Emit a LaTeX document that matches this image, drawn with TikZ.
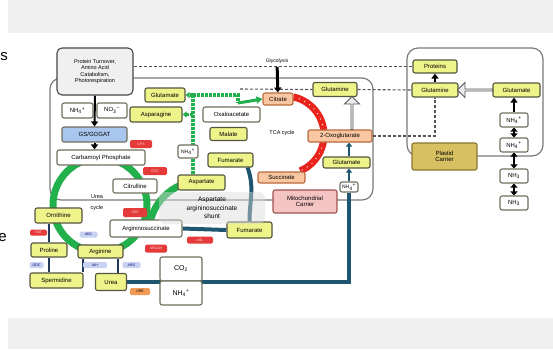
\documentclass[tikz,border=0pt]{standalone}
\usepackage{fontspec}
\setmainfont{Liberation Sans}
\usetikzlibrary{arrows.meta,shapes.arrows,backgrounds}

\definecolor{boxyel}{HTML}{EEF38A}
\definecolor{boxline}{HTML}{55553F}
\definecolor{boxorg}{HTML}{FAC7A2}
\definecolor{orgline}{HTML}{B86A3C}
\definecolor{boxblue}{HTML}{A9C6EE}
\definecolor{boxpink}{HTML}{F3C4C2}
\definecolor{pinkline}{HTML}{A0524E}
\definecolor{boxgold}{HTML}{D6C062}
\definecolor{goldline}{HTML}{8A7630}
\definecolor{ugreen}{HTML}{21B04B}
\definecolor{tcared}{HTML}{E8241C}
\definecolor{nteal}{HTML}{1E5670}
\definecolor{navy}{HTML}{23395A}
\definecolor{enzred}{HTML}{E53A3A}
\definecolor{enzlav}{HTML}{C9D1F2}
\definecolor{enzorg}{HTML}{F09A55}
\definecolor{band}{HTML}{F0F0F0}
\definecolor{frameg}{HTML}{7A7A7A}

\newcommand{\ammon}{NH\textsubscript{4}\textsuperscript{+}}

\begin{document}
\begin{tikzpicture}[x=1pt, y=-1pt,
    sz/.style 2 args={minimum width=#1, minimum height=#2},
    box/.style={draw=boxline, line width=1.1pt, rounded corners=2pt, inner sep=0pt,
                align=center, font=\fontsize{6}{6.5}\selectfont},
    yel/.style={box, fill=boxyel},
    org/.style={box, fill=boxorg, draw=orgline},
    wht/.style={box, fill=white, draw=boxline!85},
    gry/.style={box, fill=gray!12, draw=gray!55!black, rounded corners=5pt},
    blu/.style={box, fill=boxblue, draw=boxline!85},
    pnk/.style={box, fill=boxpink, draw=pinkline},
    gld/.style={box, fill=boxgold, draw=goldline},
    enz/.style={rounded corners=1.5pt, inner sep=0pt, font=\fontsize{3.5}{4}\selectfont},
    enzr/.style={enz, fill=enzred, text=white!85!red},
    enzl/.style={enz, fill=enzlav, text=blue!40!black},
    enzo/.style={enz, fill=enzorg, text=black},
    frame/.style={draw=frameg, line width=1.2pt, rounded corners=11pt},
    dashline/.style={draw=gray!65!black, line width=1.1pt, dash pattern=on 3pt off 2pt},
    ucycle/.style={draw=ugreen, line width=7pt},
    gdash/.style={draw=ugreen, line width=3.5pt, dash pattern=on 3pt off 1pt},
    tcaline/.style={draw=tcared, line width=7pt},
    tealline/.style={draw=nteal, line width=4pt},
    navyline/.style={draw=navy, line width=2pt},
    blk/.style={draw=black, line width=2pt, -{Triangle[width=7pt,length=5pt]}},
    blk2/.style={draw=black, line width=2pt, {Triangle[width=7pt,length=4pt]}-{Triangle[width=7pt,length=4pt]}},
    hollow/.style={single arrow, draw=gray!70!black, fill=gray!15, line width=0.9pt,
                   minimum width=15, single arrow head extend=3, inner sep=0pt, minimum height=#1},
  ]
  \useasboundingbox (0,0) rectangle (553,349);

  % cut letters on the left
  \node[font=\fontsize{15}{15}\selectfont, anchor=east, inner sep=0pt] (cuts) at (8,57) {s};
  \node[font=\fontsize{15}{15}\selectfont, anchor=east, inner sep=0pt] (cute) at (7,238) {e};

  % left column
  \node[gry, sz={76}{47}, font=\fontsize{5.5}{6.3}\selectfont] (prot) at (95,71.5) {Protein Turnover,\\Amino Acid\\Catabolism,\\Photorespiration};
  \node[wht, sz={31}{15}] (nh4a) at (77.5,110.5) {\ammon};
  \node[wht, sz={30}{15}] (no3) at (112,110.5) {NO\textsubscript{3}\textsuperscript{--}};
  \node[blu, sz={65}{15}] (gs) at (94.5,134.5) {GS/GOGAT};
  \node[wht, sz={88}{15}] (carb) at (101,157.5) {Carbamoyl Phosphate};

  % cytosol side
  \node[yel, sz={40}{14}] (glu1) at (165,95) {Glutamate};
  \node[yel, sz={52}{15}] (asn) at (156,114.5) {Asparagine};
  \node[wht, sz={57}{15}] (oaa) at (231.5,114.5) {Oxaloacetate};
  \node[yel, sz={37}{13}] (mal) at (228.5,134) {Malate};
  \node[yel, sz={45}{14}] (fum1) at (230.5,160) {Fumarate};
  \node[wht, sz={20}{13}, font=\fontsize{5}{6}\selectfont] (nh4b) at (188,151.5) {\ammon};
  \node[yel, sz={47}{15}] (asp) at (201.5,182.5) {Aspartate};

  % TCA cycle
  \node[org, sz={30}{12}] (cit) at (278,99) {Citrate};
  \node[yel, sz={44}{14}] (gln1) at (335,89.5) {Glutamine};
  \node[org, sz={64}{12}] (ogl) at (340,136) {2-Oxoglutarate};
  \node[yel, sz={47}{11}] (glu2) at (346.5,162.5) {Glutamate};
  \node[wht, sz={18}{10}, font=\fontsize{5}{6}\selectfont] (nh4c) at (349,187) {\ammon};
  \node[org, sz={47}{11}] (suc) at (281.5,177.5) {Succinate};
  \node[pnk, sz={64}{23}] (mito) at (305,201.5) {Mitochondrial\\Carrier};
  \node[font=\fontsize{5}{6}\selectfont] (gly) at (277,61) {Glycolysis};
  \node[font=\fontsize{5.5}{6}\selectfont] (tca) at (282,133) {TCA cycle};

  % urea cycle
  \node[wht, sz={44}{14}] (citr) at (135,186) {Citrulline};
  \node[wht, sz={72}{17}] (arsu) at (146,228.5) {Argininosuccinate};
  \node[yel, sz={45}{16}] (fum2) at (249.5,230) {Fumarate};
  \node[yel, sz={47}{15}] (orn) at (58.5,215.5) {Ornithine};
  \node[yel, sz={45}{13}] (arg) at (100.5,251.5) {Arginine};
  \node[yel, sz={36}{14}] (pro) at (49,250) {Proline};
  \node[yel, sz={53}{15}] (spd) at (56.5,280.5) {Spermidine};
  \node[yel, sz={31}{17}] (urea) at (111,282) {Urea};
  \node[wht, sz={42}{24}, font=\fontsize{7}{8}\selectfont] (co2) at (181,269) {CO\textsubscript{2}};
  \node[wht, sz={42}{24}, font=\fontsize{7}{8}\selectfont] (nh4d) at (181,293) {\ammon};
  \node[align=center, font=\fontsize{5.5}{11}\selectfont] (ucl) at (97,203) {Urea\\cycle};
  \node[rounded corners=6pt, fill=gray!30, fill opacity=0.45, text opacity=1, sz={106}{32},
        align=center, font=\fontsize{6.5}{8.5}\selectfont] (shunt) at (212,208)
        {Aspartate\\argininosuccinate\\shunt};

  % enzyme tags
  \node[enzr, sz={22}{8}] (cps) at (141,144) {CPS};
  \node[enzr, sz={24}{8}] (otc) at (155,171) {OTC};
  \node[enzr, sz={24}{9}] (ass) at (135,212.5) {ASS};
  \node[enzr, sz={26}{7}] (asl) at (200,240) {ASL};
  \node[enzr, sz={22}{8}] (argah) at (156,248.5) {ARGAH};
  \node[enzr, sz={17}{6}] (oat) at (38.5,232.5) {OAT};
  \node[enzl, sz={18}{6}] (adc) at (88.5,234.5) {ADC};
  \node[enzl, sz={14}{6}] (odc) at (36.5,265) {ODC};
  \node[enzl, sz={24}{6}] (aih) at (95,265) {AIH};
  \node[enzl, sz={18}{6}] (arg2) at (131.5,265) {ARG};
  \node[enzo, sz={20}{7}] (ure) at (140,291.5) {URE};

  % plastid side
  \node[yel, sz={44}{13}] (prots) at (435,66.5) {Proteins};
  \node[yel, sz={46}{14}] (gln2) at (435,90) {Glutamine};
  \node[yel, sz={47}{14}] (glu3) at (516.5,90) {Glutamate};
  \foreach \nm/\yy/\lbl in {n1/120/\ammon, n2/145/\ammon, n3/176/NH\textsubscript{3}, n4/203/NH\textsubscript{3}}
    \node[wht, sz={28}{14}] (\nm) at (514,\yy) {\lbl};
  \node[gld, sz={65}{27}] (plast) at (444.5,156.5) {Plastid\\Carrier};

  % hollow arrows
  \node[hollow=33, rotate=90] (ha1) at (352,113.5) {};
  \node[hollow=35, rotate=180] (ha2) at (475.5,90) {};

  \begin{scope}[on background layer]
    % bands and compartments
    \fill[band] (8,0) rectangle (553,33);
    \fill[band] (8,318) rectangle (553,349);
    \draw[frame] (50,78) rectangle (373,200);
    \draw[frame] (407,48) rectangle (543,156);

    % dashed exchange lines
    \coordinate (dstart) at (240,89);
    \draw[dashline] (prot.east |- prots.west) -- (prots.west);
    \draw[dashline] (dstart) -- (gln1.west);
    \draw[dashline] (gln1.east) -- (gln2.west);
    \draw[dashline] (ogl.east) -| (gln2.south);

    % urea cycle and shunt
    \draw[ucycle] (100,205) circle[radius=47];
    \draw[ucycle] (201,233) ++(180:52) arc[start angle=180, end angle=270, radius=52];
    \coordinate (gtop) at (193,95);
    \coordinate (gturn) at (238,95);
    \coordinate (gdown) at (238,103);
    \draw[gdash] (asp.north -| gtop) -- (gtop);
    \draw[gdash, -{Triangle[width=6pt,length=4pt]}] (gtop) -- (glu1.east);
    \draw[gdash, -{Triangle[width=6pt,length=4pt]}] (gtop |- asn.east) -- (asn.east);
    \draw[gdash] (gtop) -- (gturn) -- (gdown);
    \draw[draw=ugreen, line width=3pt, -{Triangle[width=7pt,length=6pt]}] (gdown) -- (cit.west);

    % TCA cycle
    \draw[tcaline] (285,135) ++(-78:39) arc[start angle=-78, end angle=67, radius=39];
    \draw[white, line width=0.8pt, dash pattern=on 1pt off 5pt] (285,135) ++(-78:39) arc[start angle=-78, end angle=67, radius=39];

    % nitrogen flow
    \draw[tealline] (fum1.south east) ++(-6,0) to[out=-70, in=90] (fum2.north);
    \draw[tealline] (arsu.east) -- (fum2.west);
    \draw[tealline] (nh4c.south) |- (urea.east);
    \draw[draw=nteal, line width=2.5pt, -{Triangle[width=6pt,length=4pt]}] (nh4c.north) -- (nh4c.north |- glu2.south);
    \draw[draw=nteal, line width=2.5pt, -{Triangle[width=6pt,length=4pt]}] (nh4c.north |- glu2.north) -- (nh4c.north |- ogl.south);

    % polyamine and proline branches
    \draw[navyline] (pro.north) -- (pro.north |- orn.south);
    \draw[navyline] (pro.south) -- (pro.south |- spd.north);
    \draw[navyline] ([xshift=-18]arg.south) -- ([xshift=-18]arg.south |- spd.north);
    \draw[navyline] ([xshift=17.5]arg.south) -- ([xshift=17.5]arg.south |- urea.north);

    % black arrows
    \draw[blk] (prot.south) -- (gs.north);
    \draw[blk] (gs.south) -- (gs.south |- carb.north);
    \draw[blk, line width=3pt] (gly) -- (cit);
    \draw[blk] (gln2.north) -- (prots.south);
    \draw[blk] (n1.north) -- (n1.north |- glu3.south);
    \foreach \a/\b in {n1/n2, n2/n3, n3/n4}
      \draw[blk2] (\a.south) -- (\b.north);
  \end{scope}
\end{tikzpicture}
\end{document}
